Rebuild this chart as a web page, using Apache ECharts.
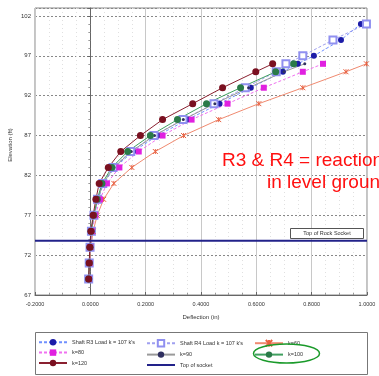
<!DOCTYPE html>
<html><head><meta charset="utf-8">
<script src="https://cdn.jsdelivr.net/npm/echarts/dist/echarts.min.js"></script>
<style>html,body{margin:0;padding:0;background:#fff}#c{width:379px;height:376px}</style>
</head><body><div id="c"></div>
<script>
// Elevations (ft) of the computed points
const elevK = [69,71,73,75,77,79,81,83,85,87,89,91,93,95,96];
const elevShaft = [69,71,73,75,77,79,81,83,85,87,89,91,93,95,96,97,99,101];
// Deflections (in)
const defR3  = [-0.006,-0.004,-0.001,0.004,0.014,0.028,0.048,0.088,0.155,0.243,0.351,0.467,0.580,0.696,0.750,0.808,0.906,0.978];
const defR4  = [-0.006,-0.004,-0.001,0.004,0.013,0.026,0.045,0.082,0.146,0.230,0.335,0.447,0.560,0.672,0.707,0.768,0.877,0.998];
const defK60 = [-0.004,-0.002,0.002,0.010,0.025,0.048,0.085,0.150,0.235,0.337,0.464,0.609,0.768,0.924,0.998];
const defK80 = [-0.005,-0.003,0.000,0.006,0.018,0.035,0.060,0.105,0.175,0.261,0.366,0.496,0.627,0.768,0.841];
const defK90 = [-0.006,-0.004,-0.001,0.004,0.013,0.027,0.046,0.085,0.148,0.232,0.336,0.450,0.572,0.700,0.775];
const defK100= [-0.006,-0.004,-0.001,0.003,0.012,0.025,0.042,0.078,0.135,0.217,0.315,0.420,0.543,0.670,0.735];
const defK120= [-0.006,-0.004,-0.002,0.002,0.010,0.020,0.032,0.065,0.110,0.181,0.261,0.370,0.478,0.598,0.659];
const socketElev = 73.8;
const socketX = [-0.2, 1.0];
const names = ["Shaft R3 Load k = 107 k's","Shaft R4 Load k = 107 k's","k=60","k=80","k=90","k=100","k=120","Top of socket"];

const pairs = (xs, ys) => xs.map((x, i) => [x, ys[i]]);

const chart = echarts.init(document.getElementById('c'));
const lbl = {fontFamily:'Liberation Sans, Arial', fontSize:5.5, color:'#333'};
const legendBase = {orient:'vertical',itemWidth:28,itemHeight:8,itemGap:4,padding:0,height:40,textStyle:lbl};
chart.setOption({
  animation:false,
  backgroundColor:'#fff',
  grid:{left:35,right:12,top:8,bottom:81,show:true,borderColor:'#888',borderWidth:1},
  xAxis:{type:'value',min:-0.2,max:1.0,interval:0.2,
    axisLine:{lineStyle:{color:'#666'}},
    axisTick:{show:true,inside:true,length:3,lineStyle:{color:'#666'}},
    minorTick:{show:true,splitNumber:4,length:2,lineStyle:{color:'#999'}},
    axisLabel:Object.assign({margin:6,formatter:v=>(Math.abs(v)<1e-9?0:v).toFixed(4)},lbl),
    splitLine:{show:true,lineStyle:{color:'#c8c8c8',width:1}},
    minorSplitLine:{show:true,lineStyle:{color:'#e0e0e0',type:[1,3]}}},
  yAxis:{type:'value',min:67,max:103,interval:5,
    axisLine:{onZero:true,lineStyle:{color:'#666'}},
    axisTick:{show:true,inside:false,length:3,lineStyle:{color:'#666'}},
    minorTick:{show:true,splitNumber:5,length:2,lineStyle:{color:'#999'}},
    axisLabel:Object.assign({showMaxLabel:false,margin:4},lbl,{fontSize:6}),
    splitLine:{show:true,lineStyle:{color:'#888',type:[2,2],width:1}}},
  legend:[
    Object.assign({data:[names[0],names[3],names[6]],left:38,top:339},legendBase),
    Object.assign({data:[names[1],names[4],{name:names[7],itemStyle:{opacity:0}}],left:146,top:339},legendBase),
    Object.assign({data:[names[2],names[5]],left:254,top:339},legendBase)
  ],
  series:[
    {name:names[0],type:'line',data:pairs(defR3,elevShaft),symbol:'circle',symbolSize:6,
      itemStyle:{color:'#1c1ca8'},lineStyle:{color:'#7090ff',width:1,type:[3,2]}},
    {name:names[1],type:'line',data:pairs(defR4,elevShaft),symbol:'emptyRect',symbolSize:7,
      itemStyle:{color:'#9090f0',borderWidth:1},lineStyle:{color:'#a0a0f0',width:1,type:[3,2]}},
    {name:names[2],type:'line',data:pairs(defK60,elevK),symbol:'path://M0,0L10,10M10,0L0,10M5,0L5,10',symbolSize:5,
      itemStyle:{color:'#f07050',borderColor:'#e86040',borderWidth:1},lineStyle:{color:'#f08a70',width:1}},
    {name:names[3],type:'line',data:pairs(defK80,elevK),symbol:'rect',symbolSize:6,
      itemStyle:{color:'#e020e0'},lineStyle:{color:'#f070f0',width:1,type:[3,2]}},
    {name:names[4],type:'line',data:pairs(defK90,elevK),symbol:'circle',symbolSize:3,
      itemStyle:{color:'#303060'},lineStyle:{color:'#9a9a9a',width:1}},
    {name:names[5],type:'line',data:pairs(defK100,elevK),symbol:'circle',symbolSize:7,
      itemStyle:{color:'#2a7a48'},lineStyle:{color:'#40a060',width:1}},
    {name:names[6],type:'line',data:pairs(defK120,elevK),symbol:'circle',symbolSize:7,
      itemStyle:{color:'#7a1020'},lineStyle:{color:'#8a2030',width:1}},
    {name:names[7],type:'line',data:socketX.map(x=>[x,socketElev]),symbol:'none',
      itemStyle:{color:'#22228a'},lineStyle:{color:'#22228a',width:2}}
  ],
  graphic:[
    {type:'text',x:10,y:145,rotation:Math.PI/2,style:{text:'Elevation (ft)',fontSize:6,fill:'#333',align:'center',verticalAlign:'middle',fontFamily:'Liberation Sans, Arial'}},
    {type:'text',x:201,y:317,style:{text:'Deflection (in)',fontSize:6,fill:'#333',align:'center',verticalAlign:'middle',fontFamily:'Liberation Sans, Arial'}},
    {type:'rect',shape:{x:290.5,y:228.5,width:73,height:10},style:{fill:'#fff',stroke:'#555',lineWidth:1},z:10},
    {type:'text',x:327,y:233.5,style:{text:'Top of Rock Socket',fontSize:5.5,fill:'#333',align:'center',verticalAlign:'middle',fontFamily:'Liberation Sans, Arial'},z:11},
    {type:'text',x:222,y:161,style:{text:'R3 & R4 = reaction',fontSize:19,fill:'#ff1010',verticalAlign:'middle',fontFamily:'Liberation Sans, Arial'},z:12},
    {type:'text',x:267,y:183,style:{text:'in level ground',fontSize:19,fill:'#ff1010',verticalAlign:'middle',fontFamily:'Liberation Sans, Arial'},z:12},
    {type:'rect',shape:{x:35.5,y:332.5,width:332,height:42},style:{fill:'none',stroke:'#777',lineWidth:1},z:0},
    {type:'ellipse',shape:{cx:286.5,cy:353.5,rx:33,ry:9.5},style:{fill:'none',stroke:'#1a9a2a',lineWidth:1.5},z:20}
  ]
});
</script></body></html>
